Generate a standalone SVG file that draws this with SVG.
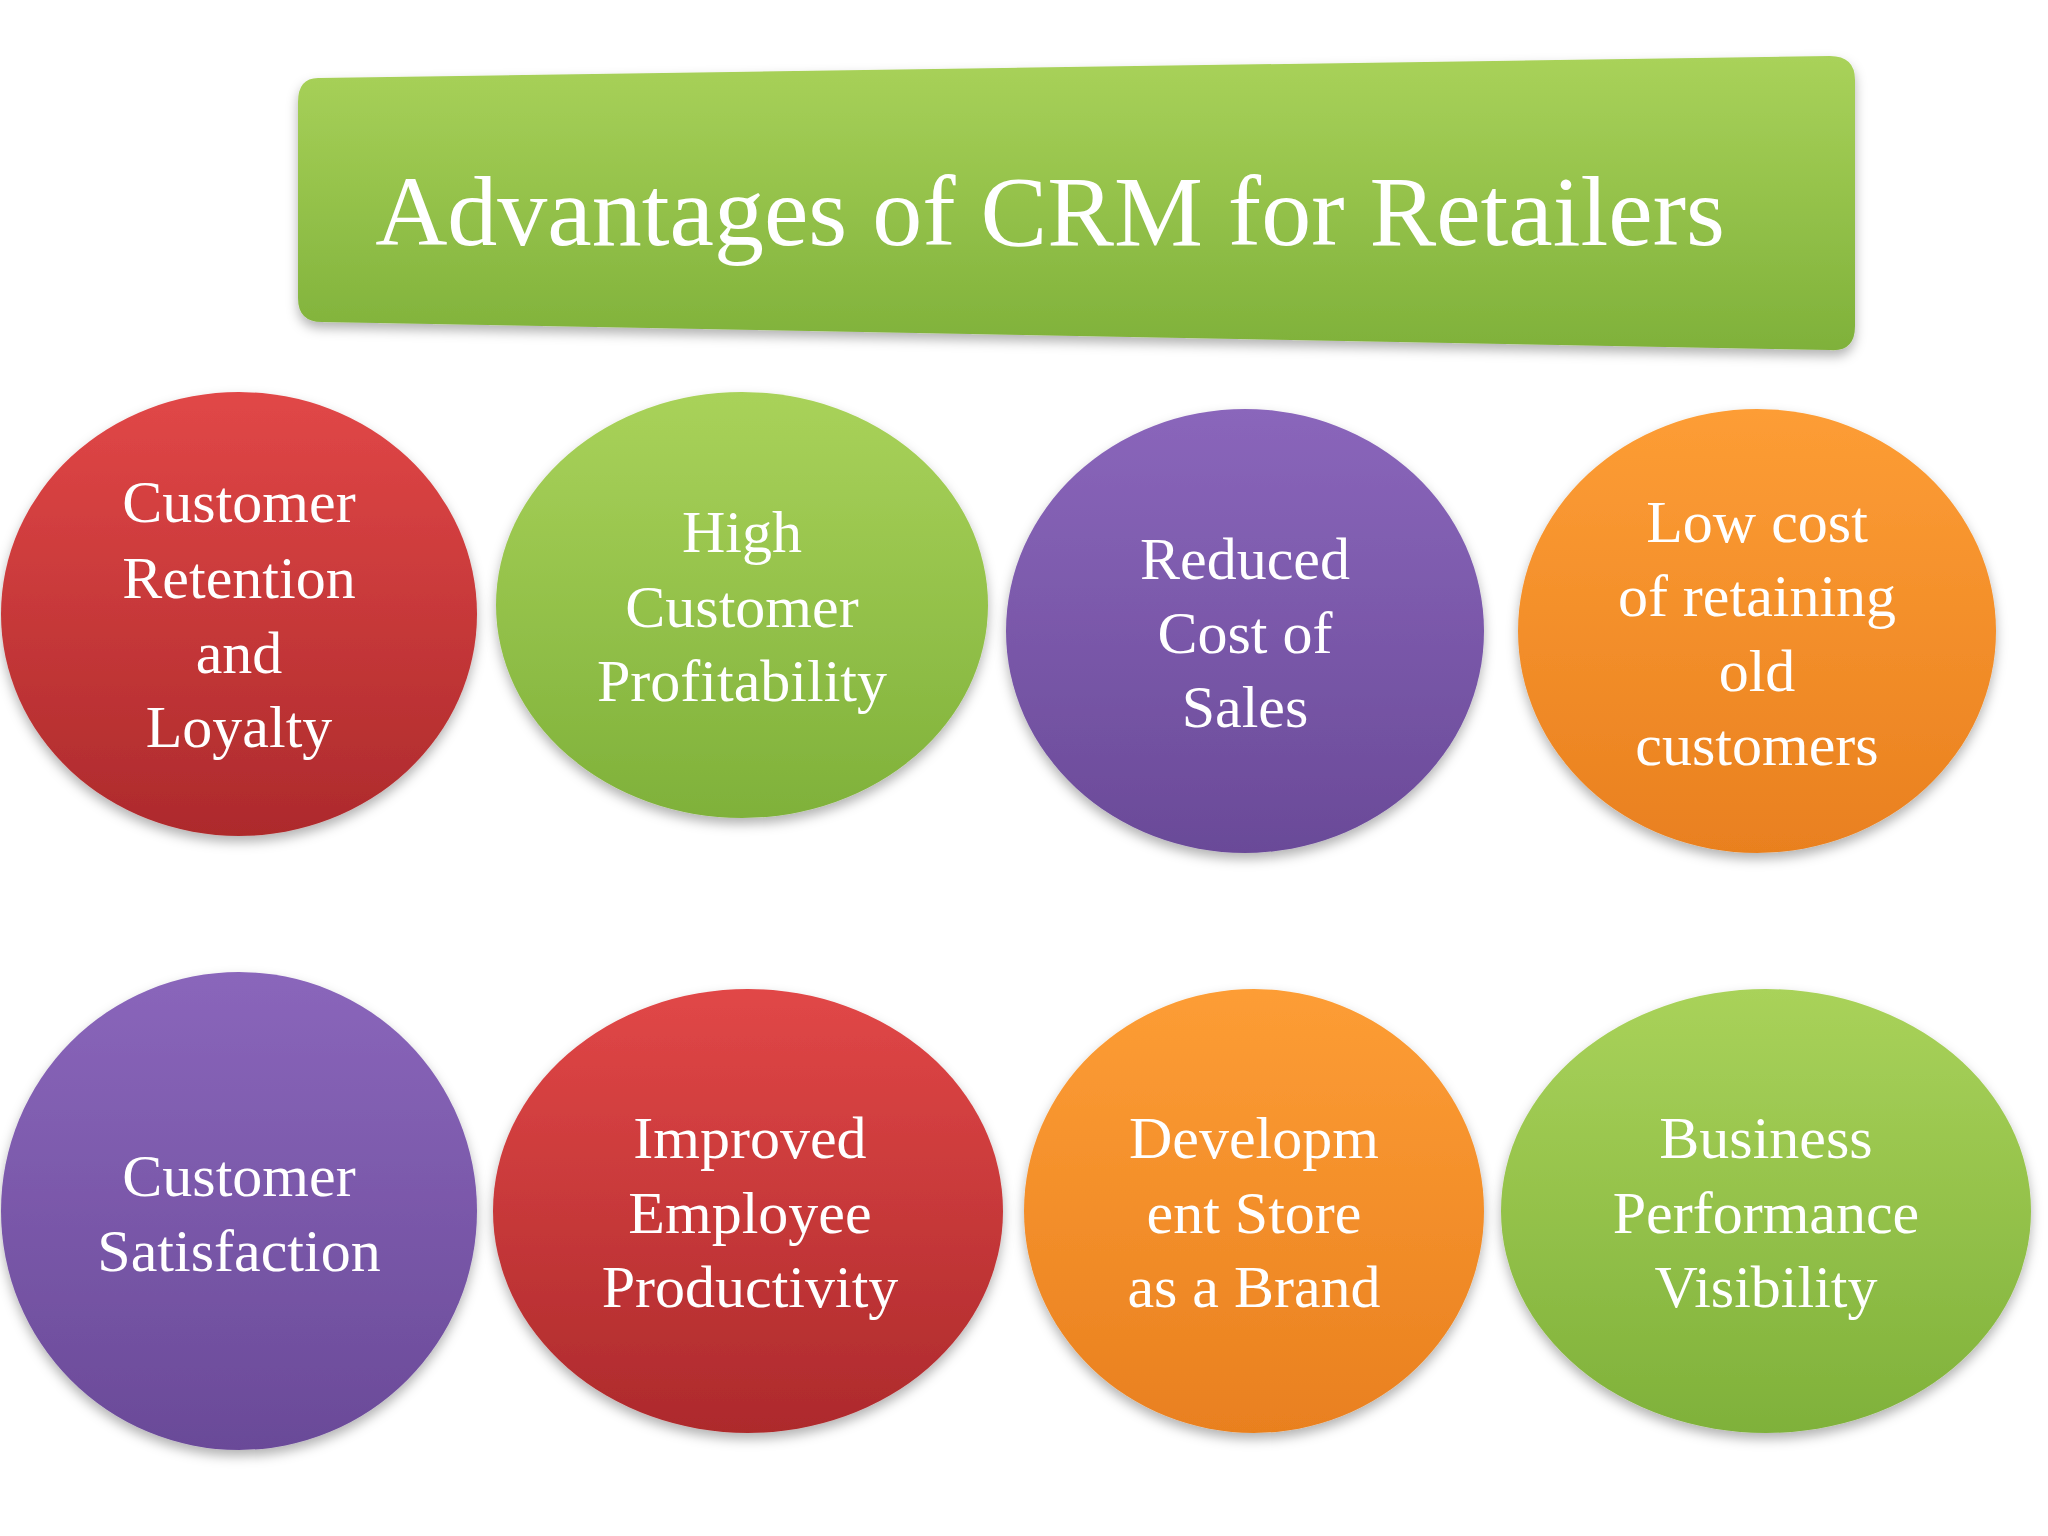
<svg xmlns="http://www.w3.org/2000/svg" width="2048" height="1536" viewBox="0 0 2048 1536">
<defs>
<linearGradient id="gG" x1="0" y1="0" x2="0" y2="1"><stop offset="0" stop-color="#a9d25a"/><stop offset="1" stop-color="#7fb13a"/></linearGradient>
<linearGradient id="gR" x1="0" y1="0" x2="0" y2="1"><stop offset="0" stop-color="#e14747"/><stop offset="1" stop-color="#ad2a2c"/></linearGradient>
<linearGradient id="gP" x1="0" y1="0" x2="0" y2="1"><stop offset="0" stop-color="#8a66bb"/><stop offset="1" stop-color="#6a4a98"/></linearGradient>
<linearGradient id="gO" x1="0" y1="0" x2="0" y2="1"><stop offset="0" stop-color="#fd9d35"/><stop offset="1" stop-color="#e9801f"/></linearGradient>
<filter id="sh" x="-10%" y="-10%" width="120%" height="125%"><feDropShadow dx="0" dy="6" stdDeviation="6" flood-color="#000" flood-opacity="0.3"/></filter>
</defs>
<style>
.t{font-family:"Liberation Serif",serif;font-size:60px;fill:#fff;text-anchor:middle}
.c{filter:url(#sh)}
</style>
<rect width="2048" height="1536" fill="#fff"/>
<g id="title">
<path d="M318 78 L1830 56 Q1855 56 1855 80 L1855 326 Q1855 352 1830 350 L322 322 Q298 322 298 298 L298 102 Q298 78 318 78 Z" fill="url(#gG)" class="c"/>
<text x="1050" y="245" style="font-family:'Liberation Serif',serif;font-size:100px;fill:#fff;text-anchor:middle">Advantages of CRM for Retailers</text>
</g>
<g id="n1"><ellipse class="c" cx="239" cy="614" rx="238" ry="222" fill="url(#gR)"/><text class="t" x="239" y="522">Customer</text><text class="t" x="239" y="598">Retention</text><text class="t" x="239" y="673">and</text><text class="t" x="239" y="747">Loyalty</text></g>
<g id="n2"><ellipse class="c" cx="742" cy="605" rx="246" ry="213" fill="url(#gG)"/><text class="t" x="742" y="552">High</text><text class="t" x="742" y="627">Customer</text><text class="t" x="742" y="701">Profitability</text></g>
<g id="n3"><ellipse class="c" cx="1245" cy="631" rx="239" ry="222" fill="url(#gP)"/><text class="t" x="1245" y="579">Reduced</text><text class="t" x="1245" y="653">Cost of</text><text class="t" x="1245" y="727">Sales</text></g>
<g id="n4"><ellipse class="c" cx="1757" cy="631" rx="239" ry="222" fill="url(#gO)"/><text class="t" x="1757" y="542">Low cost</text><text class="t" x="1757" y="616">of retaining</text><text class="t" x="1757" y="691">old</text><text class="t" x="1757" y="765">customers</text></g>
<g id="n5"><ellipse class="c" cx="239" cy="1211" rx="238" ry="239" fill="url(#gP)"/><text class="t" x="239" y="1196">Customer</text><text class="t" x="239" y="1271">Satisfaction</text></g>
<g id="n6"><ellipse class="c" cx="748" cy="1211" rx="255" ry="222" fill="url(#gR)"/><text class="t" x="750" y="1158">Improved</text><text class="t" x="750" y="1233">Employee</text><text class="t" x="750" y="1307">Productivity</text></g>
<g id="n7"><ellipse class="c" cx="1254" cy="1211" rx="230" ry="222" fill="url(#gO)"/><text class="t" x="1254" y="1158">Developm</text><text class="t" x="1254" y="1233">ent Store</text><text class="t" x="1254" y="1307">as a Brand</text></g>
<g id="n8"><ellipse class="c" cx="1766" cy="1211" rx="265" ry="222" fill="url(#gG)"/><text class="t" x="1766" y="1158">Business</text><text class="t" x="1766" y="1233">Performance</text><text class="t" x="1766" y="1307">Visibility</text></g>
<g id="connectors"/>
</svg>
